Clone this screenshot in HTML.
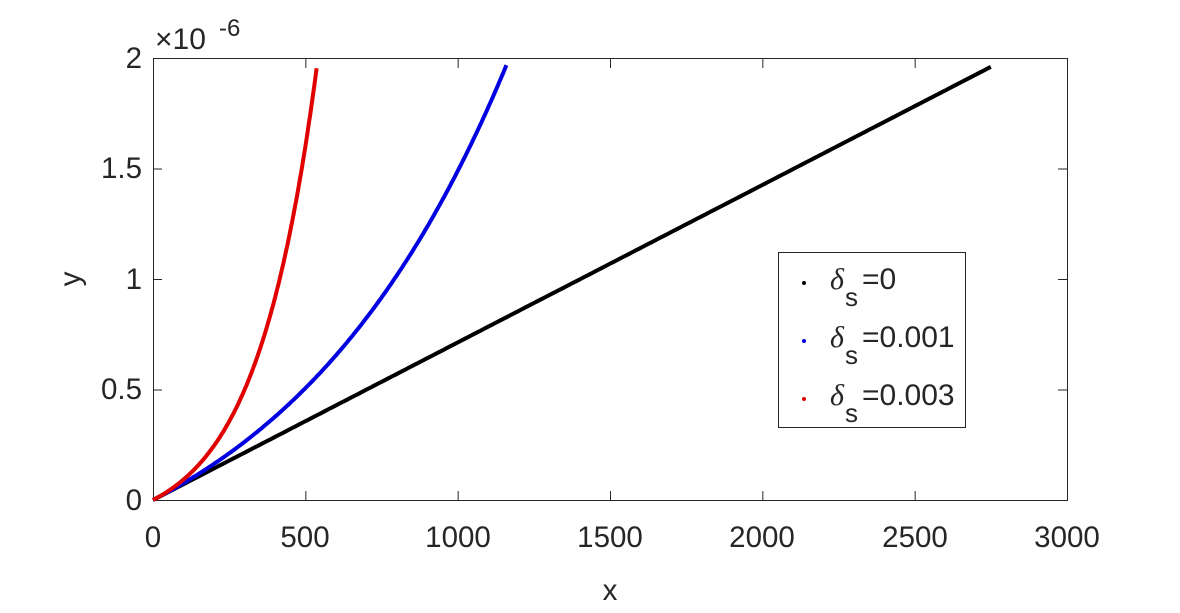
<!DOCTYPE html>
<html><head><style>
body{margin:0;background:#fff;}
svg text{font-family:"Liberation Sans",Arial,sans-serif;fill:#262626;}
</style></head><body>
<svg id="s" width="1180" height="608" xmlns="http://www.w3.org/2000/svg">
<rect width="1180" height="608" fill="#fff"/>
<g stroke="#262626" stroke-width="1" fill="none">
<rect x="153.5" y="58.5" width="914" height="442"/>
</g>
<g id="ticks" stroke="#262626" stroke-width="1"></g>
<g font-size="29.5" text-anchor="middle">
<text x="153" y="547">0</text><text x="305" y="547">500</text><text x="458" y="547">1000</text>
<text x="610" y="547">1500</text><text x="762" y="547">2000</text><text x="915" y="547">2500</text><text x="1067" y="547">3000</text>
<text x="610" y="600">x</text>
</g>
<g font-size="29.5" text-anchor="end">
<text x="142" y="510">0</text><text x="142" y="399">0.5</text><text x="142" y="289">1</text>
<text x="142" y="178">1.5</text><text x="142" y="68">2</text>
</g>
<text x="80" y="279" font-size="29.5" text-anchor="middle" transform="rotate(-90 80 279)">y</text>
<text x="155" y="49" font-size="30">×10</text><text x="219" y="36" font-size="24">-6</text>
<polyline id="k" fill="none" stroke="#000" stroke-width="4"/>
<polyline id="b" fill="none" stroke="#0000e0" stroke-width="4"/>
<polyline id="r" fill="none" stroke="#e00000" stroke-width="4"/>
<rect x="778.5" y="252.5" width="187" height="175" fill="#fff" stroke="#262626"/>
<circle cx="804" cy="283" r="2" fill="#000"/>
<circle cx="804" cy="341" r="2" fill="#0000e0"/>
<circle cx="804" cy="399" r="2" fill="#e00000"/>
<g font-size="30">
<text x="830" y="289"><tspan font-family="Liberation Serif" font-style="italic">δ</tspan></text><text x="845" y="306" font-size="26">s</text><text x="862" y="289">=0</text>
<text x="830" y="347"><tspan font-family="Liberation Serif" font-style="italic">δ</tspan></text><text x="845" y="364" font-size="26">s</text><text x="862" y="347">=0.001</text>
<text x="830" y="405"><tspan font-family="Liberation Serif" font-style="italic">δ</tspan></text><text x="845" y="422" font-size="26">s</text><text x="862" y="405">=0.003</text>
</g>
</svg>
<script>
var k=1.96e-6/2750;
function px(x){return 153+x*914/3000;}
function py(y){return 500-y/2e-6*442;}
function pts(xmax,c){var a=[];for(var i=0;i<=200;i++){var x=xmax*i/200;var y=c?k*(Math.exp(c*x)-1)/c:k*x;a.push(px(x).toFixed(1)+','+py(y).toFixed(1));}return a.join(' ');}
document.getElementById('k').setAttribute('points',pts(2750,0));
document.getElementById('b').setAttribute('points',pts(1160,1.54/1160));
document.getElementById('r').setAttribute('points',pts(537,2.69/537));
var t='';
for(var i=0;i<=6;i++){var x=153.5+i*914/6;t+='<line x1="'+x+'" y1="500" x2="'+x+'" y2="491"/><line x1="'+x+'" y1="59" x2="'+x+'" y2="68"/>';}
for(var j=0;j<=4;j++){var y=500.5-j*442/4;t+='<line x1="153" y1="'+y+'" x2="162" y2="'+y+'"/><line x1="1067" y1="'+y+'" x2="1058" y2="'+y+'"/>';}
document.getElementById('ticks').innerHTML=t;
</script>
</body></html>
